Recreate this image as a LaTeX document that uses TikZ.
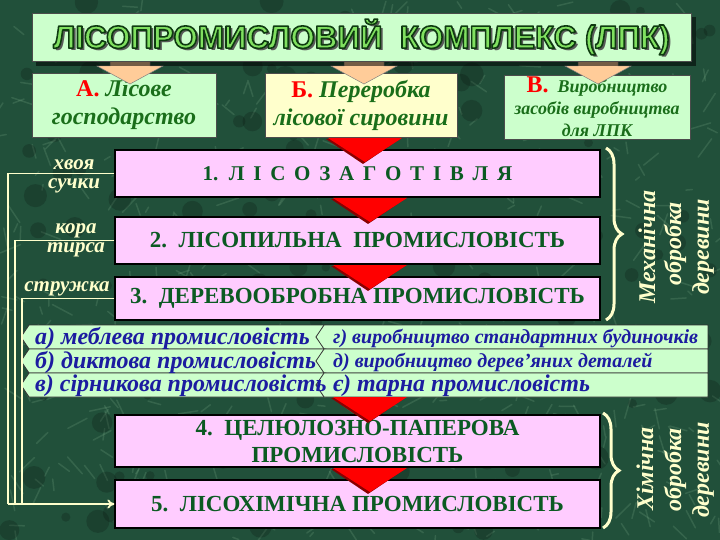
\documentclass[tikz,border=0pt]{standalone}
\usepackage{fontspec}
\setmainfont{Liberation Serif}
\newfontfamily\titlefont{Liberation Sans}
\usetikzlibrary{decorations.pathreplacing,arrows.meta,calc,shapes.symbols}
\definecolor{bg}{HTML}{21503A}
\definecolor{vein}{HTML}{7DAE8A}
\definecolor{mint}{HTML}{CCFFCC}
\definecolor{lyel}{HTML}{FFFFCC}
\definecolor{pinkb}{HTML}{FFCCFF}
\definecolor{dgreen}{HTML}{0B5A22}
\definecolor{tgreen}{HTML}{1A6E1A}
\definecolor{cream}{HTML}{FFFFCC}
\definecolor{peach}{HTML}{FFCC99}
\definecolor{lblue}{HTML}{1C1CA0}
\definecolor{titlegreen}{HTML}{80E060}
\definecolor{titledark}{HTML}{0E3A10}
\definecolor{redd}{HTML}{FF0000}
\definecolor{darkred}{HTML}{8A0000}
\newcommand\ttltext{\scalebox{0.98}[1]{ЛІСОПРОМИСЛОВИЙ\ \ КОМПЛЕКС (ЛПК)}}
\newcommand\outlined[1]{\special{pdf:code q 0.055 0.23 0.063 RG 2 Tr 1.6 w 1 j}#1\special{pdf:code Q}}
\tikzset{
  box/.style={draw=black, line width=1.2pt, inner sep=0pt, align=center},
  bigtxt/.style={font=\fontsize{23}{27}\selectfont\bfseries, text=dgreen},
  toptxt/.style={font=\fontsize{24}{28}\selectfont\bfseries\itshape, text=tgreen},
  ttl/.style={font=\titlefont\bfseries\fontsize{32}{32}\selectfont, inner sep=0pt},
  rowshape/.style={signal, signal to=west, signal pointer angle=112, draw=black!80, line width=0.8pt, fill=mint, inner sep=0pt, minimum height=24pt},
  rowtxt/.style={font=\bfseries\itshape, text=lblue, inner sep=0pt, anchor=west},
  cl/.style={draw=cream, line width=1.8pt},
  lbl/.style={font=\fontsize{21}{19}\selectfont\bfseries\itshape, text=cream, align=center, inner sep=0pt},
  vtxt/.style={font=\fontsize{24}{24}\selectfont\bfseries\itshape, text=cream, rotate=90, inner sep=0pt},
  brc/.style={draw=cream, line width=3pt, decorate, decoration={brace, amplitude=16pt}},
  redarrow/.style={fill=redd},
  redshadow/.style={fill=darkred},
  peacharrow/.style={fill=peach, draw=black!50, line width=0.5pt},
}
\begin{document}
\begin{tikzpicture}[x=1pt,y=-1pt]
\useasboundingbox (0,0) rectangle (720,540);
\fill[bg] (0,0) rectangle (720,540);
% marble texture
\pgfmathsetseed{7}
\foreach \i in {1,...,600}{
  \pgfmathsetmacro\xa{rnd*720}
  \pgfmathsetmacro\ya{rnd*540}
  \pgfmathsetmacro\an{rnd*360}
  \pgfmathsetmacro\ln{5+rnd*18}
  \draw[vein, line width=1.5pt, opacity=0.22, line cap=round] (\xa,\ya) -- ++(\an:\ln);
}
\foreach \i in {1,...,150}{
  \pgfmathsetmacro\xa{rnd*720}
  \pgfmathsetmacro\ya{rnd*540}
  \fill[black, opacity=0.18] (\xa,\ya) circle (4+rnd*8);
}

% top boxes
\node[box, draw=black!70, line width=0.8pt, fill=mint, minimum width=184pt, minimum height=64pt, toptxt] (A) at (124,105)
  {{\upshape\color{red}А.} Лісове\\господарство};
\node[box, draw=black!70, line width=0.8pt, fill=lyel, minimum width=192pt, minimum height=64pt, toptxt] (B) at (361,105)
  {{\upshape\color{red}Б.} Переробка\\лісової сировини};
\node[box, draw=black!70, line width=0.8pt, fill=mint, minimum width=186pt, minimum height=64pt, font=\fontsize{18}{22}\selectfont\bfseries\itshape, text=tgreen] (V) at (597,107)
  {{\fontsize{24}{22}\selectfont\upshape\color{red}В.}\ \ Виробництво\\засобів виробництва\\для ЛПК};

% peach arrows
\foreach \cx/\nm in {130/pa,364/pb,598/pc}{
  \draw[peacharrow] (\cx-20,56) -- (\cx+20,56) -- (\cx+20,66) -- (\cx+33,66) -- (\cx,84) -- (\cx-33,66) -- (\cx-20,66) -- cycle;
}

% title
\fill[black, opacity=0.55] (36,17) rectangle (696,66);
\node[box, draw=black!70, line width=0.8pt, fill=mint, minimum width=659pt, minimum height=48pt] (title) at (361.5,37) {};
\node[ttl, text=black!65] (tsh) at ($(title)+(2.5,2.5)$) {\ttltext};
\node[ttl, text=titlegreen] (ttext) at (title) {\outlined{\ttltext}};

% main boxes
\node[box, fill=pinkb, minimum width=485pt, minimum height=47pt, bigtxt, font=\fontsize{21}{25}\selectfont\bfseries] (b1) at (357.5,173.5)
  {1.\ \ Л\,\ І\,\ С\,\ О\,\ З\,\ А\,\ Г\,\ О\,\ Т\,\ І\,\ В\,\ Л\,\ Я};
\node[box, fill=pinkb, minimum width=485pt, minimum height=47pt, bigtxt] (b2) at (357.5,240.5)
  {2.\ \ ЛІСОПИЛЬНА\ \ ПРОМИСЛОВІСТЬ};
\node[box, fill=pinkb, minimum width=485pt, minimum height=43pt, bigtxt] (b3) at (357.5,298.5)
  {3.\ \ ДЕРЕВООБРОБНА ПРОМИСЛОВІСТЬ};
\node[box, fill=pinkb, minimum width=485pt, minimum height=52pt, bigtxt] (b4) at (357.5,441)
  {4.\ \ ЦЕЛЮЛОЗНО-ПАПЕРОВА\\ПРОМИСЛОВІСТЬ};
\node[box, fill=pinkb, minimum width=485pt, minimum height=48pt, bigtxt] (b5) at (357.5,504)
  {5.\ \ ЛІСОХІМІЧНА ПРОМИСЛОВІСТЬ};

% list rows
\foreach \r/\yc in {1/337,2/361,3/385}{
  \node[rowshape, minimum width=305pt] (L\r) at (177.5,\yc) {};
  \node[rowshape, minimum width=392pt] (R\r) at (516,\yc) {};
}
\node[rowtxt, font=\fontsize{24}{24}\selectfont\bfseries\itshape] (lt1) at (35,338) {а) меблева промисловість};
\node[rowtxt, font=\fontsize{24}{24}\selectfont\bfseries\itshape] (lt2) at (35,362) {б) диктова промисловість};
\node[rowtxt, font=\fontsize{24}{24}\selectfont\bfseries\itshape] (lt3) at (35,386) {в) сірникова промисловість};
\node[rowtxt, font=\fontsize{20}{20}\selectfont\bfseries\itshape] (rt1) at (333,338) {г) виробництво стандартних будиночків};
\node[rowtxt, font=\fontsize{20}{20}\selectfont\bfseries\itshape] (rt2) at (333,362) {д) виробництво дерев'яних деталей};
\node[rowtxt, font=\fontsize{24}{24}\selectfont\bfseries\itshape] (rt3) at (333,386) {є) тарна промисловість};

% red arrows
\foreach \cx/\tp in {365/138,370/198,370/265,370/397,370/468}{
  \fill[redshadow] (\cx-39,\tp+1) -- (\cx+35,\tp+1) -- (\cx-2,\tp+26) -- cycle;
  \fill[redarrow] (\cx-37,\tp) -- (\cx+37,\tp) -- (\cx,\tp+24) -- cycle;
}

% left connector lines
\coordinate (v1) at (8,504);
\coordinate (v2) at (15,504);
\coordinate (v3) at (22,504);
\draw[cl] (b1.west) -- (8,173.5) -- (v1);
\draw[cl] (b2.west) -- (15,240.5) -- (v2);
\draw[cl] (b3.west) -- (22,298.5) -- (v3);
\draw[cl, -{To[length=7pt,width=9pt]}] (v1) -- (b5.west);

\node[lbl] (l1) at (74,176) {хвоя\\сучки};
\node[lbl] (l2) at (76,240) {кора\\тирса};
\node[lbl] (l3) at (67,289) {стружка};

% braces
\coordinate (br1a) at (606,148);
\coordinate (br1b) at (606,320);
\coordinate (br2a) at (603,413);
\coordinate (br2b) at (603,528);
\draw[brc] (br1a) -- (br1b);
\draw[brc] (br2a) -- (br2b);

\node[vtxt] (m1) at (647,247) {Механічна};
\node[vtxt] (m2) at (675,244) {обробка};
\node[vtxt] (m3) at (703,247) {деревини};
\node[vtxt] (h1) at (645,469) {Хімічна};
\node[vtxt] (h2) at (675,470) {обробка};
\node[vtxt] (h3) at (703,470) {деревини};
\end{tikzpicture}
\end{document}
